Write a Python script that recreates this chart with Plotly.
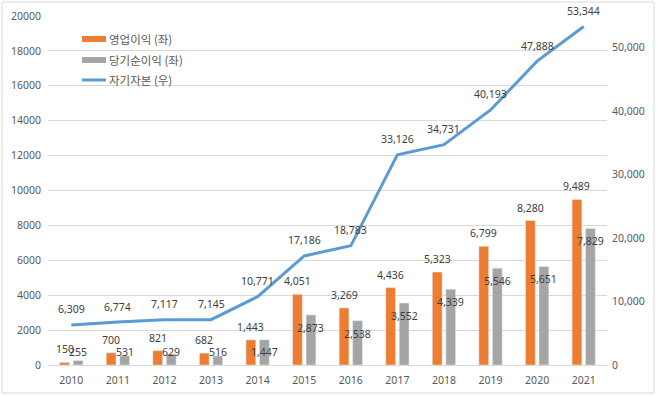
import plotly.graph_objects as go

years = ["2010", "2011", "2012", "2013", "2014", "2015", "2016", "2017", "2018", "2019", "2020", "2021"]
op_profit = [150, 700, 821, 682, 1443, 4051, 3269, 4436, 5323, 6799, 8280, 9489]
net_profit = [255, 531, 629, 516, 1447, 2873, 2538, 3552, 4339, 5546, 5651, 7829]
equity = [6309, 6774, 7117, 7145, 10771, 17186, 18783, 33126, 34731, 40193, 47888, 53344]
names = ["영업이익 (좌)", "당기순이익 (좌)", "자기자본 (우)"]

ORANGE = "#ED7D31"
GRAY = "#A5A5A5"
BLUE = "#5B9BD5"
LBL = "#404040"
TICK = "#595959"
NUMFONT = "Noto Sans, Open Sans, sans-serif"
KRFONT = "Noto Sans CJK KR, sans-serif"

xs = list(range(len(years)))
BW = 0.21
OFF_O = -0.25
OFF_G = 0.04

fig = go.Figure()
fig.add_trace(go.Bar(x=xs, y=op_profit, name=names[0], marker_color=ORANGE,
                     width=BW, offset=OFF_O, yaxis="y", showlegend=False, hoverinfo="skip"))
fig.add_trace(go.Bar(x=xs, y=net_profit, name=names[1], marker_color=GRAY,
                     width=BW, offset=OFF_G, yaxis="y", showlegend=False, hoverinfo="skip"))
fig.add_trace(go.Scatter(x=xs, y=equity, name=names[2], mode="lines",
                         line=dict(color=BLUE, width=3), yaxis="y2", showlegend=False,
                         hoverinfo="skip"))

ann = []
for i, v in enumerate(op_profit):
    ann.append(dict(x=i + OFF_O + BW / 2, y=v, xref="x", yref="y", text=f"{v:,}",
                    showarrow=False, yshift=13, font=dict(size=10.5, color=LBL, family=NUMFONT)))
for i, v in enumerate(net_profit):
    ann.append(dict(x=i + OFF_G + BW / 2, y=max(v, 1490), xref="x", yref="y", text=f"{v:,}",
                    showarrow=False, yshift=-13, font=dict(size=10.5, color=LBL, family=NUMFONT)))
for i, v in enumerate(equity):
    ann.append(dict(x=i, y=v, xref="x", yref="y2", text=f"{v:,}",
                    showarrow=False, yshift=15.5, font=dict(size=10.5, color=LBL, family=NUMFONT)))

# custom legend (Excel style swatches)
W, H, L, T = 559.0, 349.0, 48.0, 16.0
def px_x(p):
    return (p - L) / W
def px_y(p):
    return (T + H - p) / H

shapes = []
leg_y = [39, 60, 80]
colors = [ORANGE, GRAY, BLUE]
for k in range(3):
    if k < 2:
        shapes.append(dict(type="rect", xref="paper", yref="paper",
                           x0=px_x(82), x1=px_x(106), y0=px_y(leg_y[k] + 3), y1=px_y(leg_y[k] - 3),
                           fillcolor=colors[k], line=dict(width=0)))
    else:
        shapes.append(dict(type="line", xref="paper", yref="paper",
                           x0=px_x(82), x1=px_x(106), y0=px_y(leg_y[k]), y1=px_y(leg_y[k]),
                           line=dict(color=colors[k], width=3)))
    ann.append(dict(x=px_x(107), y=px_y(leg_y[k]), xref="paper", yref="paper", text=names[k],
                    xanchor="left", yanchor="middle", showarrow=False,
                    font=dict(size=11.5, color=TICK, family=KRFONT)))

# chart area border
shapes.append(dict(type="rect", xref="paper", yref="paper",
                   x0=px_x(2), x1=px_x(654), y0=px_y(393), y1=px_y(2),
                   line=dict(color="#D9D9D9", width=1), fillcolor="rgba(0,0,0,0)", layer="below"))

fig.update_layout(
    width=658, height=397,
    margin=dict(l=48, r=51, t=16, b=32),
    paper_bgcolor="white", plot_bgcolor="white",
    barmode="overlay",
    hovermode=False,
    font=dict(family=NUMFONT, size=10, color=TICK),
    xaxis=dict(type="linear", range=[-0.5, 11.5], tickmode="array", tickvals=xs, ticktext=years,
               showgrid=False, zeroline=False, showline=True, linecolor="#D9D9D9",
               ticks="", automargin=False, ticklabelstandoff=5,
               tickfont=dict(size=10.5, color=TICK, family=NUMFONT)),
    yaxis=dict(range=[0, 20000], dtick=2000, tickformat="d", showgrid=True, gridcolor="#D9D9D9",
               gridwidth=1, zeroline=False, showline=False, ticks="", automargin=False,
               ticklabelstandoff=6,
               tickfont=dict(size=10.5, color=TICK, family=NUMFONT)),
    yaxis2=dict(range=[0, 55000], tickvals=[0, 10000, 20000, 30000, 40000, 50000], tickformat=",",
                overlaying="y", side="right", showgrid=False, zeroline=False, showline=False,
                ticks="", automargin=False, ticklabelstandoff=4,
                tickfont=dict(size=10.5, color=TICK, family=NUMFONT)),
    annotations=ann,
    shapes=shapes,
)

fig.write_html("out.html", config={"displayModeBar": False},
               post_script="document.body.style.margin='0px';")
